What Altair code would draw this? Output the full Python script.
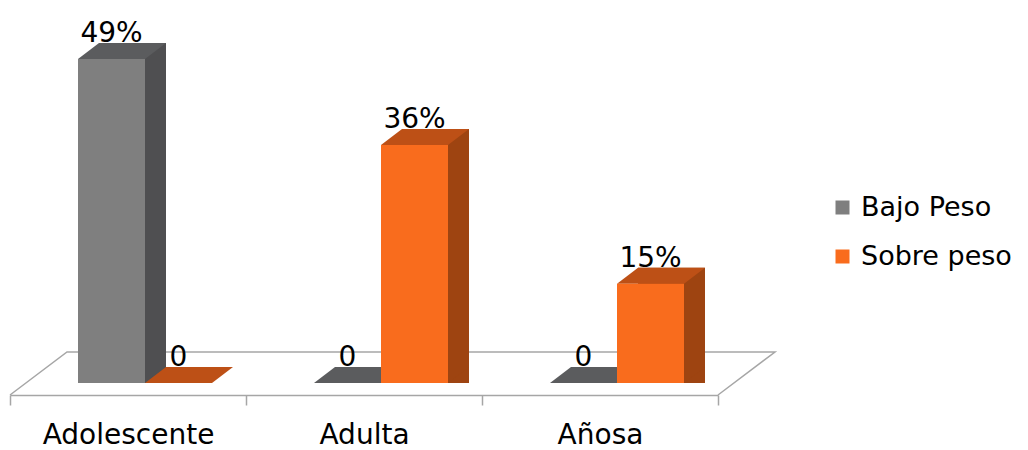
import altair as alt
import pandas as pd

# ---- data ----
categories = ["Adolescente", "Adulta", "Añosa"]
series = ["Bajo Peso", "Sobre peso"]
bajo_peso = [49, 0, 0]
sobre_peso = [0, 36, 15]

front_colors = ["#7F7F7F", "#F96C1D"]
top_colors = ["#5B5C5E", "#BD5016"]
side_colors = ["#4F4F51", "#9E4411"]

rows = []
for s, vals in zip(series, [bajo_peso, sobre_peso]):
    for c, v in zip(categories, vals):
        rows.append({"category": c, "series": s, "value": v})
df = pd.DataFrame(rows)

# ---- layout constants (pixels) ----
W, H = 708, 385
band = W / len(categories)
px_per_unit = 6.61
y_min = -12 / px_per_unit
y_max = 373 / px_per_unit
floor_dx, floor_dy = 57, 43
bar_w = 67
depth_x, depth_y = 21, 16
offsets = [-16.5, 50.5]
font = "DejaVu Sans"

K = 50.0  # symbol path scale -> size = (2K)^2
sym_size = (2 * K) ** 2
hw = bar_w / 2


def p(x, y, k=K):
    return f"{x / k:.4f},{y / k:.4f}"


top_path = ("M" + p(-hw, 0) + "L" + p(hw, 0) + "L" + p(hw + depth_x, -depth_y)
            + "L" + p(-hw + depth_x, -depth_y) + "Z")
tri_path = ("M" + p(hw, -depth_y) + "L" + p(hw, 0) + "L" + p(hw + depth_x, -depth_y) + "Z")

KF = 100.0
floor_size = (2 * KF) ** 2
fl = -band / 2
fr = -band / 2 + W
floor_path = ("M" + p(fl, 0, KF) + "L" + p(fl + floor_dx, -floor_dy, KF) + "L"
              + p(fr + floor_dx, -floor_dy, KF) + "L" + p(fr, 0, KF))

xscale = alt.Scale(paddingInner=0, paddingOuter=0)
yscale = alt.Scale(domain=[y_min, y_max], nice=False, zero=False)

X = alt.X("category:N", sort=categories, scale=xscale,
          axis=alt.Axis(title=None, tickBand="extent", tickSize=10, tickWidth=1.5,
                        tickColor="#A6A6A6", domainColor="#A6A6A6", domainWidth=1.5,
                        labelFont=font, labelFontSize=28, labelColor="#000000",
                        labelPadding=16, labelAngle=0, grid=False))
Y = alt.Y("value:Q", scale=yscale, axis=None)
Yzero = alt.Y("zero:Q", scale=yscale, axis=None)
Y2zero = alt.Y2("zero:Q")

base = alt.Chart(df).transform_calculate(zero="0", floor=str(y_min))

floor = base.transform_filter(
    (alt.datum.category == categories[0]) & (alt.datum.series == series[0])
).mark_point(shape=floor_path, size=floor_size, filled=False, opacity=1,
             strokeWidth=1.5, color="#A6A6A6").encode(
    x=X, y=alt.Y("floor:Q", scale=yscale, axis=None))

layers = [floor]
label_layers = []
for i, s in enumerate(series):
    d = base.transform_filter(alt.datum.series == s)
    off = offsets[i]
    pos = d.transform_filter(alt.datum.value > 0)
    side = pos.mark_bar(width=bar_w, xOffset=off + depth_x, yOffset=-depth_y,
                        color=side_colors[i]).encode(x=X, y=Y, y2=Y2zero)
    tri = pos.mark_point(shape=tri_path, size=sym_size, filled=True, opacity=1,
                         strokeWidth=0, color=side_colors[i], xOffset=off).encode(
        x=X, y=Yzero)
    top = d.mark_point(shape=top_path, size=sym_size, filled=True, opacity=1,
                       strokeWidth=0, color=top_colors[i], xOffset=off).encode(x=X, y=Y)
    front = d.mark_bar(width=bar_w, xOffset=off).encode(
        x=X, y=Y, y2=Y2zero,
        color=alt.Color("series:N", scale=alt.Scale(domain=series, range=front_colors),
                        legend=alt.Legend(title=None, orient="none", legendX=819, legendY=184,
                                          labelFont=font, labelFontSize=27, labelColor="#000000",
                                          symbolType="square", symbolSize=196, symbolStrokeWidth=0,
                                          labelOffset=5, rowPadding=21, padding=0)),
    )
    lab = d.transform_calculate(
        label="datum.value > 0 ? datum.value + '%' : '0'"
    ).mark_text(font=font, fontSize=28, color="#000000", baseline="alphabetic",
                xOffset=off, dy=-(depth_y + 1)).encode(x=X, y=Y, text="label:N")
    layers += [side, tri, top, front]
    label_layers.append(lab)

chart = alt.layer(*layers, *label_layers).properties(
    width=W, height=H,
    autosize=alt.AutoSizeParams(type="none"),
    padding={"left": 10, "top": 10, "right": 310, "bottom": 55},
    background="white",
).configure_view(stroke=None)

chart.save("out.html", embed_options={"renderer": "svg", "actions": False})
